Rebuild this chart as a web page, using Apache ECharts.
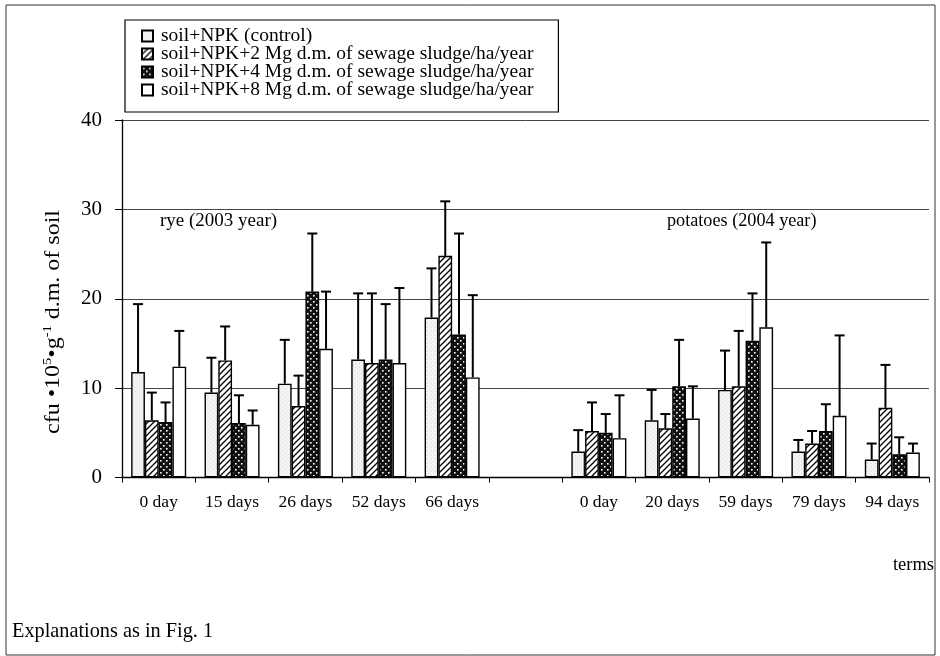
<!DOCTYPE html>
<html>
<head>
<meta charset="utf-8">
<script src="https://cdn.jsdelivr.net/npm/echarts@6/dist/echarts.min.js"></script>
<style>html,body{margin:0;padding:0;background:#fff;}#c{width:940px;height:656px;}</style>
</head>
<body>
<div id="c"></div>
<script>
// ---- data ----
const categories = ['0 day','15 days','26 days','52 days','66 days','','0 day','20 days','59 days','79 days','94 days'];
const seriesNames = [
  'soil+NPK (control)',
  'soil+NPK+2 Mg d.m. of sewage sludge/ha/year',
  'soil+NPK+4 Mg d.m. of sewage sludge/ha/year',
  'soil+NPK+8 Mg d.m. of sewage sludge/ha/year'
];
const control = [11.8, 9.5, 10.5, 13.2, 17.9, null, 2.9, 6.4, 9.8, 2.9, 2.0];
const npk2    = [6.4, 13.1, 8.0, 12.8, 24.8, null, 5.2, 5.5, 10.2, 3.8, 7.8];
const npk4    = [6.2, 6.1, 20.8, 13.2, 16.0, null, 5.0, 10.2, 15.3, 5.2, 2.6];
const npk8    = [12.4, 5.9, 14.4, 12.8, 11.2, null, 4.4, 6.6, 16.8, 6.9, 2.8];
const sdControl = [7.6, 3.9, 4.9, 7.4, 5.5, null, 2.4, 3.4, 4.4, 1.3, 1.8];
const sdNpk2    = [3.1, 3.8, 3.4, 7.8, 6.1, null, 3.2, 1.6, 6.2, 1.4, 4.8];
const sdNpk4    = [2.2, 3.1, 6.5, 6.2, 11.3, null, 2.1, 5.2, 5.3, 3.0, 1.9];
const sdNpk8    = [4.0, 1.6, 6.4, 8.4, 9.2, null, 4.8, 3.6, 9.5, 9.0, 1.0];
const yTicks = [0, 10, 20, 30, 40];

const means = [control, npk2, npk4, npk8];
const sds = [sdControl, sdNpk2, sdNpk4, sdNpk8];

// ---- patterns ----
function mkPattern(w, h, draw) {
  const c = document.createElement('canvas');
  c.width = w; c.height = h;
  draw(c.getContext('2d'), w, h);
  return c;
}
const pControl = mkPattern(4, 4, g => {
  g.fillStyle = '#f4f4f4'; g.fillRect(0, 0, 4, 4);
  g.fillStyle = '#dadada'; g.fillRect(1, 1, 1, 1); g.fillRect(3, 3, 1, 1);
});
const pHatch = mkPattern(6, 6, g => {
  g.fillStyle = '#fff'; g.fillRect(0, 0, 6, 6);
  g.strokeStyle = '#000'; g.lineWidth = 1.3; g.beginPath();
  g.moveTo(-1, 7); g.lineTo(7, -1);
  g.moveTo(-1, 1); g.lineTo(1, -1);
  g.moveTo(5, 7); g.lineTo(7, 5);
  g.stroke();
});
const pDots = mkPattern(6, 6, g => {
  g.fillStyle = '#111'; g.fillRect(0, 0, 6, 6);
  g.fillStyle = '#fff'; g.fillRect(1, 1, 1.6, 1.6); g.fillRect(4, 4, 1.6, 1.6);
});
const fills = [
  { image: pControl, repeat: 'repeat' },
  { image: pHatch, repeat: 'repeat' },
  { image: pDots, repeat: 'repeat' },
  '#ffffff'
];

const FONT = 'Liberation Serif';
const GAP = 0.25;

const series = [];
means.forEach((arr, k) => {
  series.push({
    name: seriesNames[k],
    type: 'bar',
    data: arr,
    barGap: '0%',
    barCategoryGap: (GAP * 100) + '%',
    itemStyle: { color: fills[k], borderColor: '#000', borderWidth: 1.4 },
    z: 2
  });
});
means.forEach((arr, k) => {
  const d = [];
  arr.forEach((v, i) => { if (v !== null) d.push([i, v, sds[k][i]]); });
  series.push({
    type: 'custom',
    z: 3,
    silent: true,
    data: d,
    encode: { x: 0, y: 1 },
    renderItem: function (params, api) {
      const ci = api.value(0), m = api.value(1), sd = api.value(2);
      const band = api.size([1, 0])[0];
      const bw = band * (1 - GAP) / 4;
      const c = api.coord([ci, m]);
      const t = api.coord([ci, m + sd]);
      const x = c[0] + (k - 1.5) * bw;
      const st = { stroke: '#000', lineWidth: 2 };
      return {
        type: 'group',
        children: [
          { type: 'line', shape: { x1: x, y1: c[1], x2: x, y2: t[1] }, style: st },
          { type: 'line', shape: { x1: x - 5, y1: t[1], x2: x + 5, y2: t[1] }, style: st }
        ]
      };
    }
  });
});

const chart = echarts.init(document.getElementById('c'), null, { renderer: 'canvas' });
chart.setOption({
  animation: false,
  backgroundColor: '#fff',
  textStyle: { fontFamily: FONT, color: '#000' },
  grid: { left: 122, right: 11, top: 120, bottom: 178.5 },
  legend: {
    data: seriesNames,
    orient: 'vertical',
    left: 125,
    top: 20,
    padding: [6, 25, 12, 16],
    itemGap: -2,
    itemWidth: 11,
    itemHeight: 11,
    icon: 'rect',
    borderColor: '#000',
    borderWidth: 1.2,
    textStyle: { fontFamily: FONT, fontSize: 19.5, lineHeight: 17, color: '#000', padding: [0, 0, 0, 3] },
    selectedMode: false
  },
  xAxis: {
    type: 'category',
    data: categories,
    boundaryGap: true,
    axisLine: { lineStyle: { color: '#000', width: 1.3 } },
    axisTick: { show: true, length: 5, interval: 0, lineStyle: { color: '#000' } },
    axisLabel: { interval: 0, fontFamily: FONT, fontSize: 17.5, color: '#000', margin: 16 },
    splitLine: { show: false }
  },
  yAxis: {
    type: 'value',
    min: yTicks[0],
    max: yTicks[yTicks.length - 1],
    interval: 10,
    axisLine: { show: true, lineStyle: { color: '#000', width: 1.3 } },
    axisTick: { show: true, length: 7, lineStyle: { color: '#000' } },
    axisLabel: { fontFamily: FONT, fontSize: 21, color: '#000', margin: 20 },
    splitLine: { show: true, lineStyle: { color: '#444', width: 1 } }
  },
  graphic: [
    { type: 'rect', shape: { x: 6, y: 5, width: 929, height: 650 }, style: { fill: null, stroke: '#333', lineWidth: 1 }, z: -1, silent: true },
    { type: 'text', x: 160, y: 221, style: { text: 'rye (2003 year)', font: '19px "Liberation Serif"', fill: '#000', verticalAlign: 'middle' } },
    { type: 'text', x: 667, y: 221, style: { text: 'potatoes (2004 year)', font: '18.2px "Liberation Serif"', fill: '#000', verticalAlign: 'middle' } },
    { type: 'text', x: 934, y: 565, style: { text: 'terms', font: '18.5px "Liberation Serif"', fill: '#000', align: 'right', verticalAlign: 'middle' } },
    { type: 'text', x: 12, y: 632, style: { text: 'Explanations as in Fig. 1', font: '20.3px "Liberation Serif"', fill: '#000', verticalAlign: 'middle' } },
    {
      type: 'text', x: 54, y: 322, rotation: Math.PI / 2, scaleX: 1.2,
      style: {
        text: '{a|cfu •10}{s|5}{a|•g}{s|-1}{a| d.m. of soil}',
        align: 'center', verticalAlign: 'middle', fill: '#000',
        rich: {
          a: { fontFamily: FONT, fontSize: 20, lineHeight: 24, fill: '#000' },
          s: { fontFamily: FONT, fontSize: 12, lineHeight: 12, verticalAlign: 'top', fill: '#000' }
        }
      }
    }
  ],
  series: series
});
</script>
</body>
</html>
